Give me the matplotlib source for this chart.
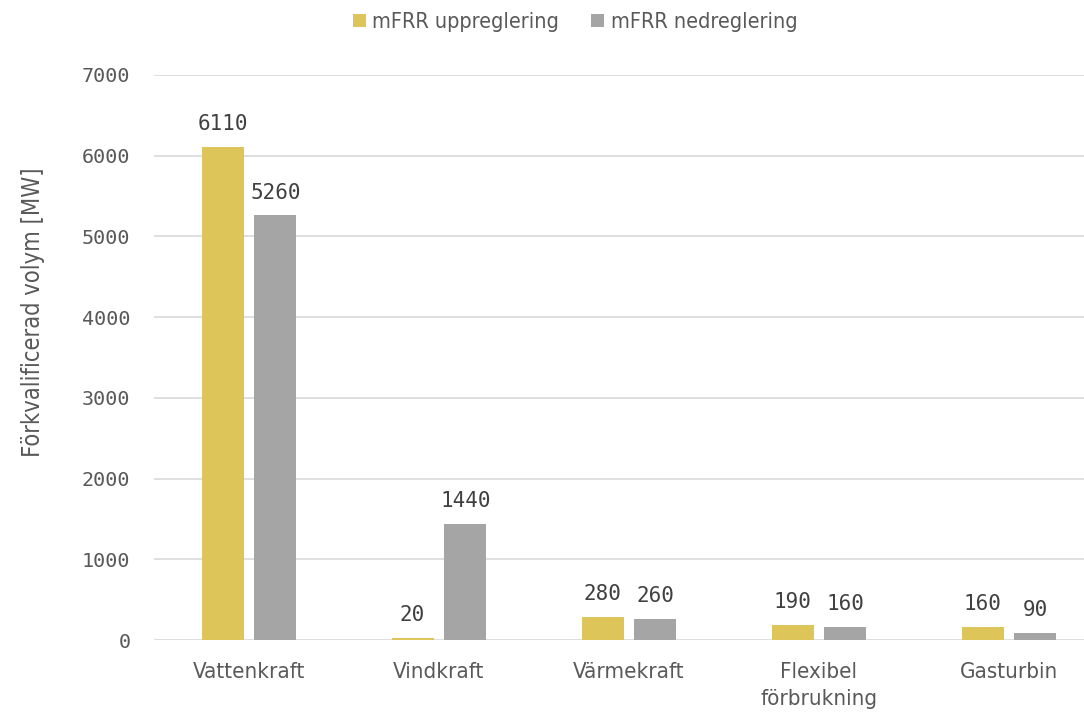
import matplotlib
matplotlib.use("Agg")
import matplotlib.pyplot as plt
import numpy as np

categories = ["Vattenkraft", "Vindkraft", "Värmekraft", "Flexibel\nförbrukning", "Gasturbin"]
upp = [6110, 20, 280, 190, 160]
ned = [5260, 1440, 260, 160, 90]

YELLOW = "#DDC55A"
GRAY = "#A5A5A6"
TXT = "#595959"

plt.rcParams['font.family'] = ['DejaVu Sans']
plt.rcParams['font.stretch'] = 'condensed'

fig = plt.figure(figsize=(10.84, 7.12), dpi=100)
ax = fig.add_axes([154/1084, 72/712, 950/1084, 565/712])

x = np.arange(len(categories))
w = 0.221
off = 0.139
b1 = ax.bar(x - off, upp, w, color=YELLOW, label="mFRR uppreglering", zorder=3)
b2 = ax.bar(x + off, ned, w, color=GRAY, label="mFRR nedreglering", zorder=3)

for bars, vals in ((b1, upp), (b2, ned)):
    for r, v in zip(bars, vals):
        ax.text(r.get_x() + r.get_width()/2, v + 160, str(v), ha="center", va="bottom",
                fontsize=15, color="#404040", family=['DejaVu Sans Mono'])

ax.set_xlim(-0.5, 4.5)
ax.set_ylim(0, 7000)
ax.set_yticks(range(0, 7001, 1000))
ax.yaxis.grid(True, color="#D9D9D9", linewidth=1.2, zorder=0)
ax.set_axisbelow(True)
for s in ["top", "right", "left", "bottom"]:
    ax.spines[s].set_visible(False)
ax.tick_params(axis="both", length=0, colors=TXT, labelsize=16)
ax.tick_params(axis="y", pad=17)
ax.tick_params(axis="x", pad=16)
for t in ax.get_yticklabels():
    t.set_family(['DejaVu Sans Mono'])
    t.set_fontsize(14.5)
ax.set_xticks(x)
ax.set_xticklabels(categories, linespacing=1.45)
ax.set_ylabel("Förkvalificerad volym [MW]", fontsize=17, color=TXT)
ax.yaxis.set_label_coords(-0.115, 0.58)

fig.legend(handles=[b1, b2], loc="center", bbox_to_anchor=(575/1084, 1 - 22/712), ncol=2,
           frameon=False, fontsize=15.5, labelcolor=TXT, handlelength=0.6, handleheight=0.6,
           handletextpad=0.3, columnspacing=1.5)

fig.savefig("out.png", dpi=100)
